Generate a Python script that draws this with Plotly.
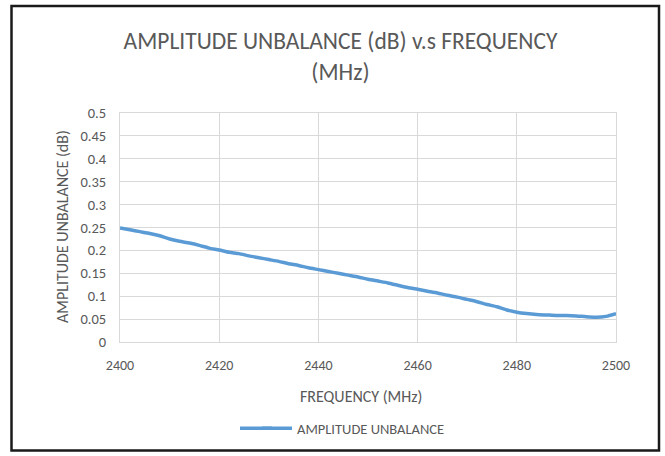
import plotly.graph_objects as go

freq_mhz = [2400, 2402, 2404, 2406, 2408, 2410, 2412, 2414, 2416, 2418,
            2420, 2422, 2424, 2426, 2428, 2430, 2432, 2434, 2436, 2438,
            2440, 2442, 2444, 2446, 2448, 2450, 2452, 2454, 2456, 2458,
            2460, 2462, 2464, 2466, 2468, 2470, 2472, 2474, 2476, 2478,
            2480, 2482, 2484, 2486, 2488, 2490, 2492, 2494, 2496, 2498, 2500]
amp_unbalance_db = [0.249, 0.245, 0.241, 0.237, 0.232, 0.225, 0.220, 0.216, 0.211, 0.205,
                    0.201, 0.196, 0.193, 0.188, 0.184, 0.180, 0.176, 0.171, 0.167, 0.162,
                    0.158, 0.154, 0.150, 0.146, 0.142, 0.137, 0.133, 0.129, 0.124, 0.119,
                    0.115, 0.111, 0.107, 0.102, 0.098, 0.093, 0.088, 0.082, 0.077, 0.070,
                    0.065, 0.062, 0.060, 0.059, 0.058, 0.058, 0.057, 0.055, 0.054, 0.056, 0.062]

x_ticks = [2400, 2420, 2440, 2460, 2480, 2500]
y_ticks = [0, 0.05, 0.1, 0.15, 0.2, 0.25, 0.3, 0.35, 0.4, 0.45, 0.5]
y_tick_labels = ["0", "0.05", "0.1", "0.15", "0.2", "0.25", "0.3", "0.35", "0.4", "0.45", "0.5"]

title_text = "AMPLITUDE UNBALANCE (dB) v.s FREQUENCY<br>(MHz)"
x_title = "FREQUENCY (MHz)"
y_title = "AMPLITUDE UNBALANCE (dB)"
series_name = "AMPLITUDE UNBALANCE"

FONT = "Carlito, Calibri, Lato, sans-serif"
TXT = "#595959"
GRID = "#d9d9d9"
LINE_COLOR = "#5B9BD5"

W, H = 665, 456
L, R, T, B = 120, 49, 113, 112
pw, ph = W - L - R, H - T - B

def px_x(px):
    return (px - L) / pw

def px_y(py):
    return (H - B - py) / ph

fig = go.Figure()
fig.add_trace(go.Scatter(
    x=freq_mhz, y=amp_unbalance_db, mode="lines", name=series_name,
    line=dict(color=LINE_COLOR, width=3.5, shape="spline", smoothing=0.6),
))

fig.update_layout(
    width=W, height=H,
    margin=dict(l=L, r=R, t=T, b=B, pad=0),
    paper_bgcolor="white", plot_bgcolor="white",
    font=dict(family=FONT, color=TXT, size=14),
    title=dict(text=title_text, x=0.512, xanchor="center", xref="container",
               y=1 - 49 / H, yanchor="top", yref="container",
               font=dict(size=23.5, color=TXT, family=FONT)),
    showlegend=True,
    legend=dict(orientation="h", x=px_x(257), xanchor="left",
                y=px_y(431), yanchor="middle",
                font=dict(size=14.5, color=TXT, family=FONT),
                bgcolor="rgba(0,0,0,0)"),
    xaxis=dict(range=[2400, 2500], tickvals=x_ticks, ticktext=[str(v) for v in x_ticks],
               showgrid=True, gridcolor=GRID, gridwidth=1,
               showline=True, linecolor=GRID, linewidth=1, mirror=True,
               zeroline=False, ticks="outside", ticklen=10, tickcolor="rgba(0,0,0,0)",
               tickfont=dict(size=14, color=TXT)),
    yaxis=dict(range=[0, 0.5], tickvals=y_ticks, ticktext=y_tick_labels,
               showgrid=True, gridcolor=GRID, gridwidth=1,
               showline=True, linecolor=GRID, linewidth=1, mirror=True,
               zeroline=False, ticks="outside", ticklen=10, tickcolor="rgba(0,0,0,0)",
               tickfont=dict(size=14.5, color=TXT)),
    annotations=[
        dict(text=x_title, xref="paper", yref="paper", x=px_x(361), y=px_y(399),
             xanchor="center", yanchor="middle", showarrow=False,
             font=dict(size=16, color=TXT, family=FONT)),
        dict(text=y_title, xref="paper", yref="paper", x=px_x(62), y=px_y(228),
             xanchor="center", yanchor="middle", showarrow=False, textangle=-90,
             font=dict(size=16, color=TXT, family=FONT)),
    ],
    shapes=[
        dict(type="rect", xref="paper", yref="paper",
             x0=px_x(11.5), x1=px_x(659), y0=px_y(453.5), y1=px_y(5),
             line=dict(color="#1a1a1a", width=2.5), fillcolor="rgba(0,0,0,0)", layer="above"),
        dict(type="line", xref="paper", yref="paper",
             x0=px_x(240), x1=px_x(272), y0=px_y(431), y1=px_y(431),
             line=dict(color=LINE_COLOR, width=3.5)),
    ],
)

fig.write_html("out.html", config={"displayModeBar": False},
               post_script="document.body.style.margin='0';")
